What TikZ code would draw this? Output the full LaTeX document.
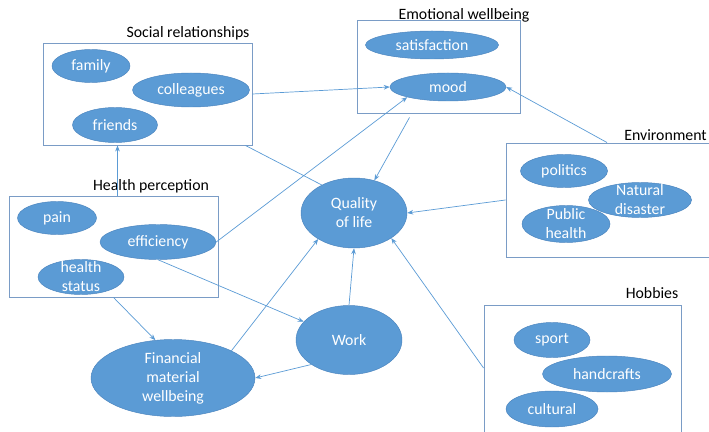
\documentclass[tikz,border=0pt]{standalone}
\usepackage{fontspec}
\setmainfont{Carlito}
\usetikzlibrary{arrows.meta,positioning,shapes.geometric}
\definecolor{QOLfill}{HTML}{5B9BD5}
\definecolor{QOLedge}{HTML}{4A84BE}
\definecolor{QOLframe}{HTML}{7A9CC6}
\definecolor{QOLline}{HTML}{5B9BD5}
\newlength\qpx
\setlength\qpx{0.03cm}
\tikzset{qolell/.style={ellipse,draw=QOLedge,fill=QOLfill,text=white,align=center,
 inner xsep=0pt,inner ysep=-8\qpx},
 qolbox/.style={draw=QOLframe,thick,inner sep=0pt},
 qoltitle/.style={inner sep=0pt,text=black},
 qolline/.style={draw=QOLline,semithick},
 qolarr/.style={-{Stealth[length=1.8mm,width=1.4mm]},qolline}}

\begin{document}
\begin{tikzpicture}[x=\qpx,y=-\qpx,font=\fontsize{13.5}{16.2}\selectfont]
\useasboundingbox (0,0) rectangle (709,432);
% group frames
\node[qolbox,minimum width=209\qpx,minimum height=102\qpx] (social) at (147.5,94) {};
\node[qolbox,minimum width=163\qpx,minimum height=93\qpx] (emo) at (438.5,66.5) {};
\node[qolbox,minimum width=209\qpx,minimum height=101\qpx] (health) at (113.5,246.5) {};
\node[qolbox,minimum width=214\qpx,minimum height=114\qpx] (env) at (613,200) {};
\node[qolbox,minimum width=197\qpx,minimum height=140\qpx] (hob) at (582.5,375) {};
\node[qoltitle] (socialT) at (188,33) {Social relationships};
\node[qoltitle] (emoT) at (464,15) {Emotional wellbeing};
\node[qoltitle] (healthT) at (151,186) {Health perception};
\node[qoltitle,anchor=east] (envT) at (707,135) {Environment};
\node[qoltitle] (hobT) at (652,293) {Hobbies};
% items
\node[qolell,minimum width=78\qpx,minimum height=33\qpx] (family) at (91,66) {family};
\node[qolell,minimum width=117\qpx,minimum height=34\qpx] (coll) at (191,90) {colleagues};
\node[qolell,minimum width=85\qpx,minimum height=35\qpx] (friends) at (115,125) {friends};
\node[qolell,minimum width=133\qpx,minimum height=28\qpx] (satis) at (432,45) {satisfaction};
\node[qolell,minimum width=116\qpx,minimum height=28\qpx] (mood) at (448,87) {mood};
\node[qolell,minimum width=79\qpx,minimum height=33\qpx] (pain) at (57,218) {pain};
\node[qolell,minimum width=116\qpx,minimum height=35\qpx] (eff) at (158,242) {efficiency};
\node[qolell,minimum width=86\qpx,minimum height=35\qpx] (hstat) at (81,277) {health\\status};
\node[qolell,minimum width=164\qpx,minimum height=77\qpx] (fin) at (173,378) {Financial\\material\\wellbeing};
\node[qolell,minimum width=106\qpx,minimum height=69\qpx] (work) at (349,340) {Work};
\node[qolell,minimum width=106\qpx,minimum height=70\qpx] (qol) at (354,213) {Quality\\of life};
\node[qolell,minimum width=87\qpx,minimum height=33\qpx] (pol) at (564,171) {politics};
\node[qolell,minimum width=103\qpx,minimum height=35\qpx] (nat) at (640,200) {Natural\\disaster};
\node[qolell,minimum width=88\qpx,minimum height=37\qpx] (pub) at (566,224) {Public\\health};
\node[qolell,minimum width=76\qpx,minimum height=35\qpx] (sport) at (552,340) {sport};
\node[qolell,minimum width=129\qpx,minimum height=36\qpx] (craft) at (607,374) {handcrafts};
\node[qolell,minimum width=92\qpx,minimum height=36\qpx] (cult) at (552,409) {cultural};
% links
\draw[qolarr] (social.east) -- (mood.west);
\draw[qolline] ([xshift=-7\qpx]social.south east) -- (qol.139);
\draw[qolarr] ([xshift=4\qpx]health.north) -- ([xshift=4\qpx]health.north |- social.south);
\draw[qolarr] (eff.east) -- (mood.194);
\draw[qolarr] ([xshift=-29\qpx,yshift=-4\qpx]emo.south) -- (qol.58);
\draw[qolarr] ([xshift=-6\qpx]env.north) -- (mood.east);
\draw[qolarr] (env.west) -- (qol.east);
\draw[qolarr] (eff.south) -- (work.158);
\draw[qolarr] (health.south) -- (fin.115);
\draw[qolarr] (fin.25) -- (qol.216);
\draw[qolarr] (work.213) -- (fin.east);
\draw[qolarr] (work.north) -- (qol.south);
\draw[qolarr] ([yshift=7\qpx]hob.west) -- (qol.-34);
\end{tikzpicture}
\end{document}
